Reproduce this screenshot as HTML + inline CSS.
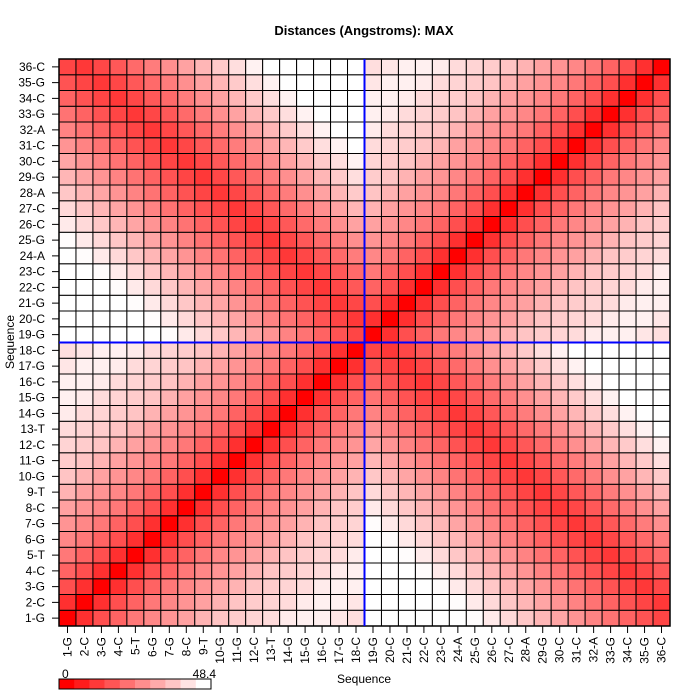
<!DOCTYPE html>
<html><head><meta charset="utf-8"><style>
html,body{margin:0;padding:0;background:#fff;}
svg{display:block;font-family:"Liberation Sans",Arial,sans-serif;}
</style></head><body>
<svg id="s" width="700" height="700" xmlns="http://www.w3.org/2000/svg"></svg>
<script>
const S=document.getElementById('s');
const L=["1-G","2-C","3-G","4-C","5-T","6-G","7-G","8-C","9-T","10-G","11-G","12-C","13-T","14-G","15-G","16-C","17-G","18-C","19-G","20-C","21-G","22-C","23-C","24-A","25-G","26-C","27-C","28-A","29-G","30-C","31-C","32-A","33-G","34-C","35-G","36-C"];
const x0=59,y0=59,W=611,H=567,cw=W/36,ch=H/36;
const same=[0,0.19,0.31,0.39,0.47,0.53,0.58,0.63,0.70,0.77,0.80,0.83,0.86,0.92,0.94,0.94,0.90,0.87];
function tval(i,j){
  const s1=i<=18,s2=j<=18;
  if(s1===s2){return same[Math.abs(i-j)];}
  let a=s1?i:j, b=s1?j:i; // a strand1, b strand2
  const p=37-b, e=a-p;
  const k=e>=1?0.058:0.05;
  return Math.min(1,0.22+k*Math.pow(Math.abs(e-1),1.1));
}
function col(t){const c=Math.round(255*Math.min(1,t));return `rgb(255,${c},${c})`;}
let h='';
h+=`<text x="364" y="35" text-anchor="middle" font-size="13" font-weight="bold">Distances (Angstroms):  MAX</text>`;
for(let i=1;i<=36;i++)for(let j=1;j<=36;j++){
  const x=x0+(j-1)*cw,y=y0+H-i*ch;
  h+=`<rect x="${x.toFixed(2)}" y="${y.toFixed(2)}" width="${cw.toFixed(2)}" height="${ch.toFixed(2)}" fill="${col(tval(i,j))}" stroke="#000" stroke-width="1"/>`;
}
h+=`<rect x="${x0}" y="${y0}" width="${W}" height="${H}" fill="none" stroke="#000" stroke-width="1.5"/>`;
h+=`<line x1="${x0+18*cw}" y1="${y0}" x2="${x0+18*cw}" y2="${y0+H}" stroke="#0000ff" stroke-width="2"/>`;
h+=`<line x1="${x0}" y1="${y0+18*ch}" x2="${x0+W}" y2="${y0+18*ch}" stroke="#0000ff" stroke-width="2"/>`;
for(let i=1;i<=36;i++){
  const y=y0+H-(i-0.5)*ch;
  h+=`<line x1="52" y1="${y}" x2="${x0}" y2="${y}" stroke="#000"/>`;
  h+=`<text x="45" y="${y+4}" text-anchor="end" font-size="12">${L[i-1]}</text>`;
  const x=x0+(i-0.5)*cw;
  h+=`<line x1="${x}" y1="${y0+H}" x2="${x}" y2="${y0+H+7}" stroke="#000"/>`;
  h+=`<text transform="translate(${x+4},${y0+H+11}) rotate(-90)" text-anchor="end" font-size="12">${L[i-1]}</text>`;
}
h+=`<text x="364" y="683" text-anchor="middle" font-size="12">Sequence</text>`;
h+=`<text transform="translate(14,342) rotate(-90)" text-anchor="middle" font-size="12">Sequence</text>`;
const lw=152/10;
for(let k=0;k<10;k++){const c=Math.round(255*k/9);h+=`<rect x="${59+k*lw}" y="679" width="${lw+0.3}" height="10" fill="rgb(255,${c},${c})"/>`;}
h+=`<rect x="59" y="679" width="152" height="10" fill="none" stroke="#000"/>`;
h+=`<text x="62" y="678" font-size="12">0</text><text x="216" y="678" text-anchor="end" font-size="12">48.4</text>`;
S.innerHTML=h;
</script>
</body></html>
